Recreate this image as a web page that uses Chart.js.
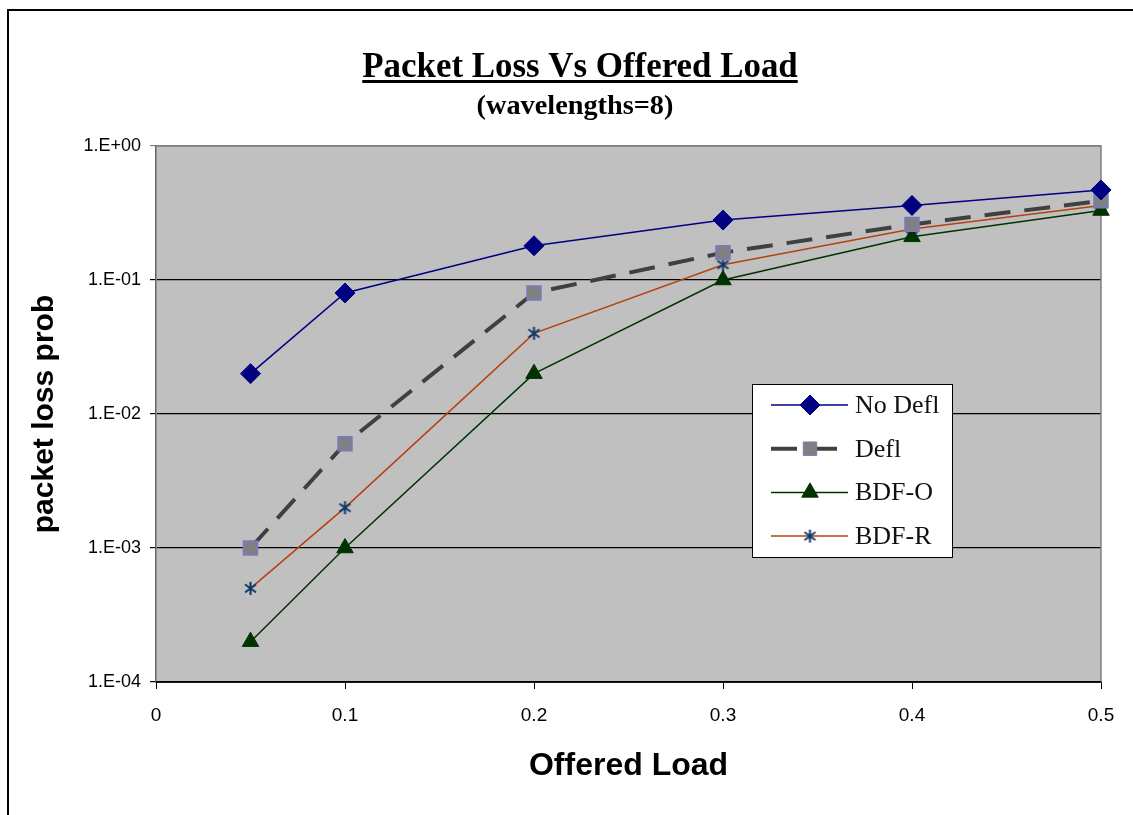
<!DOCTYPE html>
<html>
<head>
<meta charset="utf-8">
<script src="https://cdn.jsdelivr.net/npm/chart.js@4"></script>
<style>
  body { margin: 0; background: #fff; }
  #wrap { width: 1133px; height: 815px; }
</style>
</head>
<body>
<div id="wrap"><canvas id="lossChart" width="1133" height="815"></canvas></div>
<script>
// data
var loads = [0.05, 0.1, 0.2, 0.3, 0.4, 0.5];
var noDefl = [0.02, 0.08, 0.18, 0.28, 0.36, 0.47];
var defl = [0.001, 0.006, 0.08, 0.16, 0.26, 0.39];
var bdfO = [0.0002, 0.001, 0.02, 0.1, 0.21, 0.33];
var bdfR = [0.0005, 0.002, 0.04, 0.13, 0.24, 0.36];
var seriesNames = ['No Defl', 'Defl', 'BDF-O', 'BDF-R'];

var xTicks = [0, 0.1, 0.2, 0.3, 0.4, 0.5];
var xTickLabels = ['0', '0.1', '0.2', '0.3', '0.4', '0.5'];
var yTicks = [1e-4, 1e-3, 1e-2, 1e-1, 1];
var yTickLabels = ['1.E-04', '1.E-03', '1.E-02', '1.E-01', '1.E+00'];

var SANS = '"Liberation Sans", Arial, sans-serif';
var SERIF = '"Liberation Serif", "Times New Roman", serif';

function pts(vals) {
    return loads.map(function(x, i) { return { x: x, y: vals[i] }; });
}

// three-stroke asterisk marker
function asterisk(color) {
    var c = document.createElement('canvas');
    c.width = 15; c.height = 15;
    var g = c.getContext('2d');
    g.strokeStyle = color;
    g.lineWidth = 2;
    g.beginPath();
    g.moveTo(7.5, 1); g.lineTo(7.5, 14);
    g.moveTo(2, 3.5); g.lineTo(13, 11.5);
    g.moveTo(13, 3.5); g.lineTo(2, 11.5);
    g.stroke();
    return c;
}

var frame = {
    id: 'frame',
    beforeDraw: function(chart) {
        var ctx = chart.ctx, a = chart.chartArea;
        ctx.save();
        ctx.fillStyle = '#fff';
        ctx.fillRect(0, 0, chart.width, chart.height);
        ctx.strokeStyle = '#000';
        ctx.lineWidth = 2;
        ctx.strokeRect(8, 10, 1400, 1000);
        ctx.fillStyle = '#c0c0c0';
        ctx.fillRect(a.left, a.top, a.right - a.left, a.bottom - a.top);
        ctx.restore();
    },
    beforeDatasetsDraw: function(chart) {
        var ctx = chart.ctx, a = chart.chartArea;
        ctx.save();
        ctx.strokeStyle = '#808080';
        ctx.lineWidth = 1.5;
        ctx.beginPath();
        ctx.moveTo(a.left, a.top);
        ctx.lineTo(a.right, a.top);
        ctx.lineTo(a.right, a.bottom);
        ctx.stroke();
        ctx.strokeStyle = '#000';
        ctx.beginPath();
        ctx.moveTo(a.left, a.bottom);
        ctx.lineTo(a.right, a.bottom);
        ctx.stroke();
        ctx.restore();
    },
    afterDraw: function(chart) {
        var ctx = chart.ctx;
        ctx.save();
        ctx.fillStyle = '#000';
        ctx.textAlign = 'center';
        ctx.textBaseline = 'alphabetic';

        // title, sized to the width it has in the picture
        var title = 'Packet Loss Vs Offered Load';
        ctx.font = 'bold 32px ' + SERIF;
        var size = 32 * 435 / ctx.measureText(title).width;
        ctx.font = 'bold ' + size.toFixed(1) + 'px ' + SERIF;
        var w = ctx.measureText(title).width;
        ctx.fillText(title, 580, 77);
        ctx.fillRect(580 - w / 2, 80, w, 3);

        var sub = '(wavelengths=8)';
        ctx.font = 'bold 22px ' + SERIF;
        size = 22 * 197 / ctx.measureText(sub).width;
        ctx.font = 'bold ' + size.toFixed(1) + 'px ' + SERIF;
        ctx.fillText(sub, 575, 114);

        // legend box inside the plot
        ctx.fillStyle = '#fff';
        ctx.fillRect(752, 384, 200, 173);
        ctx.strokeStyle = '#000';
        ctx.lineWidth = 1;
        ctx.strokeRect(752.5, 384.5, 200, 173);
        ctx.textAlign = 'left';
        ctx.textBaseline = 'middle';
        ctx.font = '26px ' + SERIF;
        chart.data.datasets.forEach(function(ds, i) {
            var y = 405 + i * 43.7;
            ctx.save();
            ctx.strokeStyle = ds.borderColor;
            ctx.lineWidth = ds.borderWidth;
            ctx.setLineDash(ds.borderDash || []);
            ctx.beginPath();
            ctx.moveTo(771, y);
            ctx.lineTo(848, y);
            ctx.stroke();
            ctx.restore();
            ctx.save();
            ctx.fillStyle = ds.pointBackgroundColor;
            ctx.strokeStyle = ds.pointBorderColor;
            Chart.helpers.drawPoint(ctx, {
                pointStyle: ds.pointStyle,
                radius: ds.pointRadius,
                rotation: 0,
                borderWidth: ds.pointBorderWidth
            }, 810, y);
            ctx.restore();
            ctx.fillStyle = '#111';
            ctx.fillText(ds.label, 855, y + 1);
        });
        ctx.restore();
    }
};

var ctx = document.getElementById('lossChart').getContext('2d');
var chart = new Chart(ctx, {
    type: 'line',
    data: {
        datasets: [{
            label: seriesNames[0],
            data: pts(noDefl),
            borderColor: '#000080',
            borderWidth: 1.5,
            pointStyle: 'rectRot',
            pointRadius: 10,
            pointBackgroundColor: '#000080',
            pointBorderColor: '#000080',
            pointBorderWidth: 1
        }, {
            label: seriesNames[1],
            data: pts(defl),
            borderColor: '#404040',
            borderWidth: 4,
            borderDash: [26, 14],
            pointStyle: 'rect',
            pointRadius: 9.5,
            pointBackgroundColor: '#808080',
            pointBorderColor: '#7a7ab8',
            pointBorderWidth: 2
        }, {
            label: seriesNames[2],
            data: pts(bdfO),
            borderColor: '#003300',
            borderWidth: 1.5,
            pointStyle: 'triangle',
            pointRadius: 9.5,
            pointBackgroundColor: '#003300',
            pointBorderColor: '#003300',
            pointBorderWidth: 1
        }, {
            label: seriesNames[3],
            data: pts(bdfR),
            borderColor: '#b5420e',
            borderWidth: 1.5,
            pointStyle: asterisk('#0c3868'),
            pointRadius: 8,
            pointBackgroundColor: '#0c3868',
            pointBorderColor: '#0c3868',
            pointBorderWidth: 1
        }]
    },
    options: {
        responsive: false,
        animation: false,
        devicePixelRatio: 1,
        layout: { padding: { left: 0, top: 146, right: 32, bottom: 0 } },
        elements: { line: { tension: 0 } },
        datasets: { line: { clip: false } },
        plugins: {
            legend: { display: false },
            tooltip: { enabled: false }
        },
        scales: {
            x: {
                type: 'linear',
                min: 0,
                max: 0.5,
                afterFit: function(scale) { scale.height = 133; },
                afterBuildTicks: function(scale) {
                    scale.ticks = xTicks.map(function(v) { return { value: v }; });
                },
                ticks: {
                    color: '#000',
                    font: { family: SANS, size: 19 },
                    padding: 15,
                    maxRotation: 0,
                    callback: function(v) { return xTickLabels[xTicks.indexOf(v)]; }
                },
                grid: {
                    drawOnChartArea: false,
                    drawTicks: true,
                    tickLength: 7,
                    color: '#000'
                },
                border: { color: '#000', width: 1.5 },
                title: {
                    display: true,
                    text: 'Offered Load',
                    color: '#000',
                    font: { family: SANS, size: 32, weight: 'bold' },
                    padding: { top: 0, bottom: 30 }
                }
            },
            y: {
                type: 'logarithmic',
                min: 1e-4,
                max: 1,
                afterFit: function(scale) { scale.width = 156; },
                afterBuildTicks: function(scale) {
                    scale.ticks = yTicks.map(function(v) { return { value: v }; });
                },
                ticks: {
                    color: '#000',
                    font: { family: SANS, size: 18 },
                    padding: 9,
                    callback: function(v) { return yTickLabels[yTicks.indexOf(v)]; }
                },
                grid: {
                    drawTicks: true,
                    tickLength: 6,
                    lineWidth: 1.2,
                    color: function(c) { return c.tick && c.tick.value === 1 ? '#808080' : '#000'; }
                },
                border: { color: '#666', width: 1.5 },
                title: {
                    display: true,
                    text: 'packet loss prob',
                    color: '#000',
                    font: { family: SANS, size: 30, weight: 'bold' },
                    padding: { top: 27, bottom: 0 }
                }
            }
        }
    },
    plugins: [frame]
});
</script>
</body>
</html>
